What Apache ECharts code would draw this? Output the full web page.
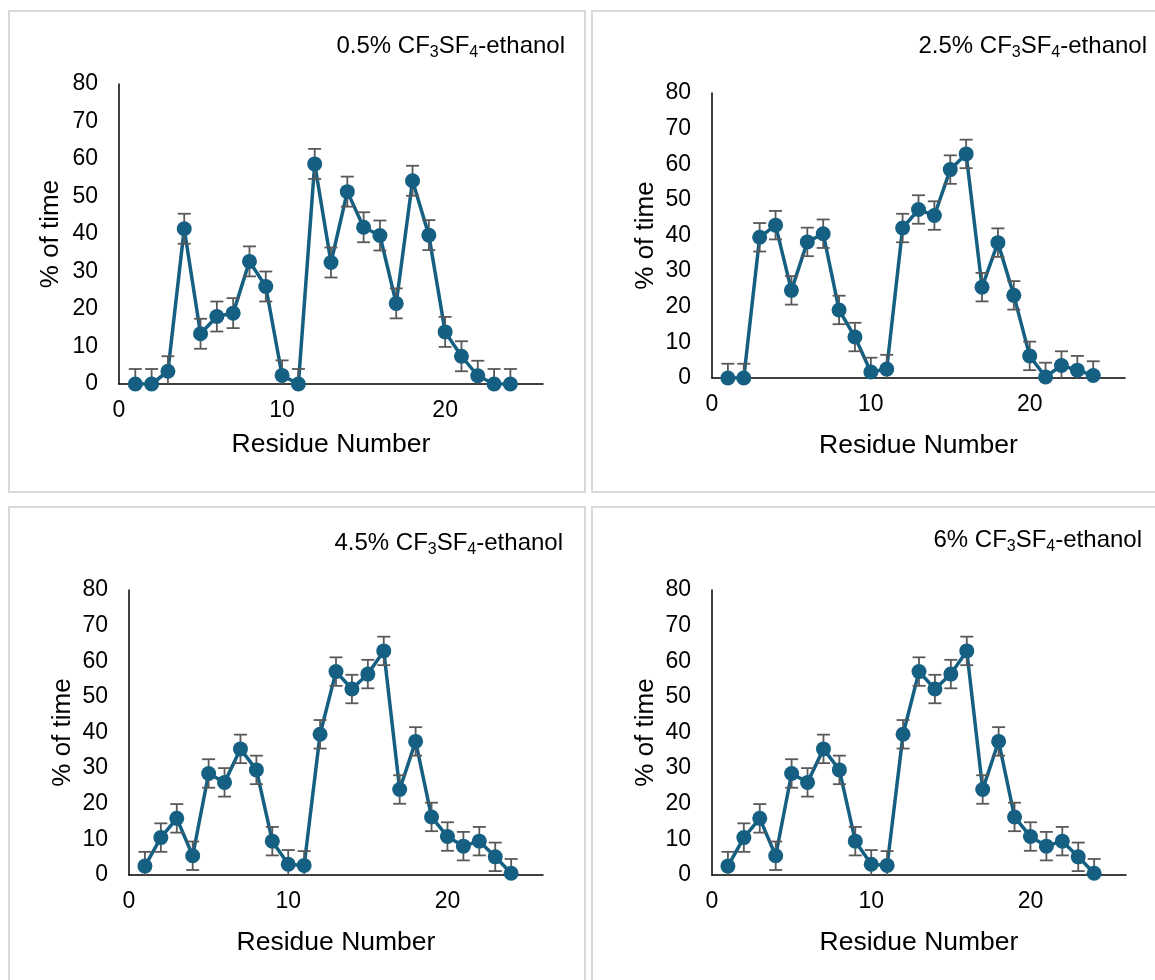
<!DOCTYPE html>
<html>
<head>
<meta charset="utf-8">
<script src="https://cdn.jsdelivr.net/npm/echarts@6/dist/echarts.min.js"></script>
<style>
html,body{margin:0;padding:0;background:#fff;}
#chart{width:1155px;height:980px;}
</style>
</head>
<body>
<div id="chart"></div>
<script>
// ---- data ----
const residues = [1,2,3,4,5,6,7,8,9,10,11,12,13,14,15,16,17,18,19,20,21,22,23,24];
const pct05 = [0,0,3.4,41.4,13.4,18.0,18.9,32.7,26.0,2.3,0,58.7,32.4,51.3,41.8,39.6,21.5,54.2,39.7,13.9,7.4,2.2,0,0];
const pct25 = [0,0,39.5,42.9,24.6,38.2,40.5,19.1,11.5,1.7,2.5,42.1,47.3,45.6,58.5,62.9,25.5,38.0,23.2,6.2,0.3,3.5,2.2,0.7];
const pct45 = [2.5,10.5,15.9,5.4,28.5,26.0,35.4,29.5,9.5,3.0,2.7,39.5,57.1,52.2,56.4,62.9,24.0,37.5,16.3,10.8,8.1,9.5,5.1,0.5];
const pct6  = [2.5,10.5,15.9,5.4,28.5,26.0,35.4,29.5,9.5,3.0,2.7,39.5,57.1,52.2,56.4,62.9,24.0,37.5,16.3,10.8,8.1,9.5,5.1,0.5];
const err05 = [4,4,4,4,4,4,4,4,4,4,4,4,4,4,4,4,4,4,4,4,4,4,4,4];
const err25 = [4,4,4,4,4,4,4,4,4,4,4,4,4,4,4,4,4,4,4,4,4,4,4,4];
const err45 = [4,4,4,4,4,4,4,4,4,4,4,4,4,4,4,4,4,4,4,4,4,4,4,4];
const err6  = [4,4,4,4,4,4,4,4,4,4,4,4,4,4,4,4,4,4,4,4,4,4,4,4];
const panelTitles = [
  '{m|0.5% CF}{s|3}{m|SF}{s|4}{m|-ethanol}',
  '{m|2.5% CF}{s|3}{m|SF}{s|4}{m|-ethanol}',
  '{m|4.5% CF}{s|3}{m|SF}{s|4}{m|-ethanol}',
  '{m|6% CF}{s|3}{m|SF}{s|4}{m|-ethanol}'
];
const xAxisName = 'Residue Number';
const yAxisName = '% of time';
const yMin = 0, yMax = 80, yStep = 10;
const xMin = 0, xMax = 26, xStep = 10;

// ---- layout / style ----
const FONT = "'Liberation Sans', Arial, sans-serif";
const LINE_COLOR = '#156082';
const ERR_COLOR = '#595959';
const panels = [
  {vals: pct05, errs: err05, grid:{left:119, top:84, width:424, height:300}, title:{right:590, top:34}, xGap:47, yGap:55, border:[9,11,576,481]},
  {vals: pct25, errs: err25, grid:{left:712, top:93, width:413, height:285}, title:{right:8, top:34}, xGap:54, yGap:53, border:[592,11,580,481]},
  {vals: pct45, errs: err45, grid:{left:129, top:590, width:414, height:285}, title:{right:592, top:531}, xGap:54, yGap:53, border:[9,507,576,490]},
  {vals: pct6,  errs: err6,  grid:{left:712, top:590, width:414, height:285}, title:{right:13, top:528}, xGap:54, yGap:53, border:[592,507,580,490]}
];

const grids = [], xAxes = [], yAxes = [], series = [], titles = [], graphics = [];
panels.forEach((p, i) => {
  grids.push(Object.assign({containLabel:false}, p.grid));
  titles.push({
    text: panelTitles[i], right: p.title.right, top: p.title.top, padding: 0,
    textStyle: {fontFamily: FONT, fontSize: 24, fontWeight: 'normal', color: '#000',
      rich: {
        m: {fontFamily: FONT, fontSize: 24, color: '#000', lineHeight: 24, verticalAlign: 'top'},
        s: {fontFamily: FONT, fontSize: 16, color: '#000', lineHeight: 16, verticalAlign: 'top', padding: [11, 0, 0, 0]}
      }}
  });
  xAxes.push({
    type:'value', gridIndex:i, min:xMin, max:xMax, interval:xStep,
    name: xAxisName, nameLocation:'middle', nameGap:p.xGap,
    nameTextStyle:{fontFamily:FONT, fontSize:26.5, color:'#000'},
    axisLine:{onZero:false, lineStyle:{color:'#000', width:1.5}},
    axisTick:{show:false}, splitLine:{show:false},
    axisLabel:{fontFamily:FONT, fontSize:23, color:'#000', margin:15, showMaxLabel:false}
  });
  yAxes.push({
    type:'value', gridIndex:i, min:yMin, max:yMax, interval:yStep,
    name: yAxisName, nameLocation:'middle', nameGap:p.yGap, nameRotate:90,
    nameTextStyle:{fontFamily:FONT, fontSize:26, color:'#000'},
    axisLine:{show:true, lineStyle:{color:'#000', width:1.5}},
    axisTick:{show:false}, splitLine:{show:false},
    axisLabel:{fontFamily:FONT, fontSize:23, color:'#000', margin:21}
  });
  const pts = residues.map((r, k) => [r, p.vals[k]]);
  const errData = residues.map((r, k) => [r, p.vals[k], p.errs[k]]);
  series.push({
    type:'line', xAxisIndex:i, yAxisIndex:i, data: pts, showSymbol:false, z:2,
    lineStyle:{color:LINE_COLOR, width:3.5}, itemStyle:{color:LINE_COLOR}, animation:false, silent:true
  });
  series.push({
    type:'custom', xAxisIndex:i, yAxisIndex:i, data: errData, z:3, animation:false, silent:true,
    encode:{x:0, y:1},
    renderItem: function(params, api){
      const x = api.value(0), y = api.value(1), e = api.value(2);
      const top = api.coord([x, y + e]);
      const bot = api.coord([x, Math.max(yMin, y - e)]);
      const hw = 6.5;
      const st = {stroke: ERR_COLOR, lineWidth: 1.8, fill: null};
      const children = [
        {type:'line', shape:{x1:top[0], y1:top[1], x2:bot[0], y2:bot[1]}, style:st},
        {type:'line', shape:{x1:top[0]-hw, y1:top[1], x2:top[0]+hw, y2:top[1]}, style:st}
      ];
      if (y - e > yMin) children.push({type:'line', shape:{x1:bot[0]-hw, y1:bot[1], x2:bot[0]+hw, y2:bot[1]}, style:st});
      return {type:'group', children: children};
    }
  });
  series.push({
    type:'scatter', xAxisIndex:i, yAxisIndex:i, data: pts, symbol:'circle', symbolSize:15, z:4,
    itemStyle:{color:LINE_COLOR, opacity:1}, animation:false, silent:true
  });
  const b = p.border;
  graphics.push({type:'rect', shape:{x:b[0], y:b[1], width:b[2], height:b[3]}, style:{fill:null, stroke:'#d9d9d9', lineWidth:2}, z:-10, silent:true});
});

const chart = echarts.init(document.getElementById('chart'), null, {renderer:'canvas'});
chart.setOption({
  backgroundColor:'#fff',
  animation:false,
  title: titles,
  grid: grids,
  xAxis: xAxes,
  yAxis: yAxes,
  series: series,
  graphic: graphics
});
</script>
</body>
</html>
